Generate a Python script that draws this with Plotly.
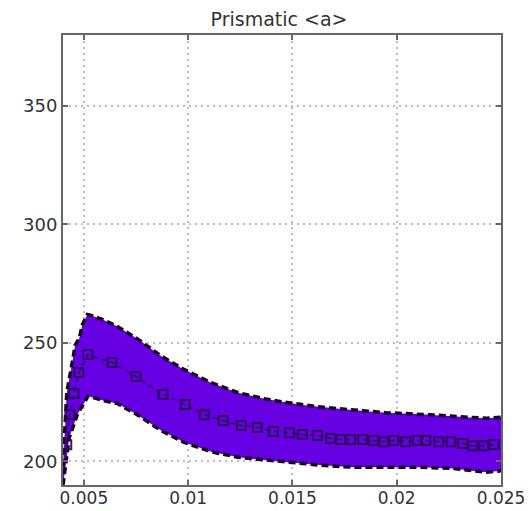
import plotly.graph_objects as go

# Mean curve (open square markers)
mean_x = [0.00418, 0.004327, 0.00452, 0.00476, 0.00519, 0.00635, 0.0075, 0.0088, 0.00986,
          0.01077, 0.01168, 0.01255, 0.01332, 0.01409, 0.01486, 0.01548, 0.0162,
          0.01683, 0.01731, 0.01779, 0.01837, 0.0189, 0.01938, 0.01986, 0.02043,
          0.021, 0.02139, 0.02201, 0.0226, 0.02317, 0.02365, 0.02418, 0.02466]
mean_y = [207.0, 219.7, 228.6, 237.5, 245.1, 241.7, 235.8, 228.2, 224.0,
          219.7, 217.2, 215.1, 214.3, 212.6, 212.1, 211.3, 210.9,
          209.6, 209.2, 209.2, 209.2, 208.8, 208.3, 208.8, 208.3,
          208.8, 208.8, 208.3, 208.3, 207.5, 206.6, 206.6, 207.1]

# Upper bound
upper_x = [0.004, 0.00418, 0.00447, 0.00458, 0.00478, 0.00493, 0.00517, 0.0054, 0.006,
           0.0066, 0.0076, 0.0087, 0.0098, 0.0111, 0.0124, 0.0136, 0.0146, 0.0155,
           0.0163, 0.0171, 0.0179, 0.0187, 0.0195, 0.0203, 0.0211, 0.0219, 0.0227,
           0.0235, 0.0243, 0.025]
upper_y = [198, 229, 243, 249, 252, 257.7, 262, 261.5, 259.5,
           257, 251.5, 244.5, 238.8, 233.2, 229, 226.5, 225, 223.8,
           223, 222.3, 221.7, 221, 220.5, 220.2, 220, 219.5, 219,
           218.5, 218.2, 218.6]

# Lower bound
lower_x = [0.004, 0.0041, 0.0043, 0.0047, 0.0052, 0.006, 0.0066, 0.0075, 0.0087,
           0.0098, 0.0111, 0.0124, 0.0136, 0.0146, 0.0163, 0.0179, 0.0195, 0.0211,
           0.0227, 0.0238, 0.0243, 0.025]
lower_y = [190, 196, 210, 220, 227.5, 225.5, 224.4, 220, 213,
           208, 204, 201.7, 200.6, 199.7, 198.4, 197.5, 197.5, 197.5,
           197, 195.8, 195.4, 196]

x_ticks = [0.005, 0.01, 0.015, 0.02, 0.025]
x_labels = ["0.005", "0.01", "0.015", "0.02", "0.025"]
y_ticks = [200, 250, 300, 350]

fill_color = "rgb(102,0,226)"

fig = go.Figure()
fig.add_trace(go.Scatter(
    x=upper_x + lower_x[::-1], y=upper_y + lower_y[::-1],
    fill="toself", fillcolor=fill_color, mode="none", showlegend=False,
    hoverinfo="skip"))
fig.add_trace(go.Scatter(
    x=upper_x, y=upper_y, mode="lines",
    line=dict(color="rgb(20,0,30)", width=3.5, dash="7px,4px"), showlegend=False))
fig.add_trace(go.Scatter(
    x=lower_x, y=lower_y, mode="lines",
    line=dict(color="rgb(20,0,30)", width=3.5, dash="7px,4px"), showlegend=False))
fig.add_trace(go.Scatter(
    x=mean_x, y=mean_y, mode="lines+markers",
    line=dict(color="rgba(40,0,80,0.85)", width=1.5, dash="5px,4px"),
    marker=dict(symbol="square-open", size=9,
                line=dict(color="rgba(40,0,80,0.9)", width=2),
                color="rgba(40,0,80,0.9)"),
    showlegend=False))

axis_common = dict(
    showline=True, linecolor="#666", linewidth=2, mirror="ticks",
    ticks="inside", ticklen=5, tickcolor="#666", tickwidth=1.5,
    showgrid=True, gridcolor="#bdbdbd", griddash="2px,4px", gridwidth=1.5,
    zeroline=False,
)

fig.update_layout(
    width=529, height=511,
    margin=dict(l=63, r=28, t=35, b=26),
    paper_bgcolor="white", plot_bgcolor="white",
    title=dict(text="Prismatic &lt;a&gt;", x=279 / 529, xanchor="center",
               y=1 - 19 / 511, yanchor="middle",
               font=dict(family="DejaVu Sans", size=19, color="#333")),
    xaxis=dict(range=[0.004, 0.025], tickvals=x_ticks, ticktext=x_labels,
               automargin=False, ticklabelstandoff=-3,
               tickfont=dict(family="DejaVu Sans", size=17, color="#333"),
               **axis_common),
    yaxis=dict(range=[190, 380], tickvals=y_ticks, automargin=False,
               tickfont=dict(family="DejaVu Sans", size=18, color="#333"),
               **axis_common),
)

fig.write_html("out.html")
